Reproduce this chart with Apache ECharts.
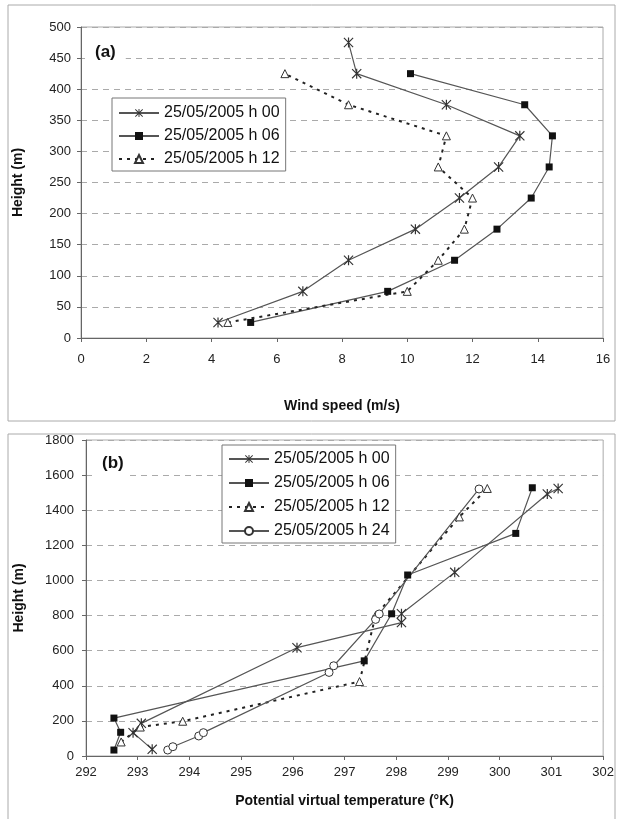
<!DOCTYPE html>
<html>
<head>
<meta charset="utf-8">
<script src="https://cdn.jsdelivr.net/npm/echarts@6/dist/echarts.min.js"></script>
<style>
  html, body { margin: 0; padding: 0; background: #fff; }
  #chart { width: 617px; height: 819px; }
</style>
</head>
<body>
<div id="chart"></div>
<script>
// Panel (a): wind speed (m/s) vs height (m)
const windH00 = [[4.2, 25], [6.8, 75], [8.2, 125], [10.25, 175], [11.6, 225], [12.8, 275], [13.45, 325], [11.2, 375], [8.45, 425], [8.2, 475]];
const windH06 = [[5.2, 25], [9.4, 75], [11.45, 125], [12.75, 175], [13.8, 225], [14.35, 275], [14.45, 325], [13.6, 375], [10.1, 425]];
const windH12 = [[4.5, 25], [10.0, 75], [10.95, 125], [11.75, 175], [12.0, 225], [10.95, 275], [11.2, 325], [8.2, 375], [6.25, 425]];

// Panel (b): potential virtual temperature (K) vs height (m)
const tempH00 = [[293.28, 38], [292.91, 133], [293.07, 186], [296.08, 617], [298.1, 760], [298.1, 810], [299.13, 1046], [300.92, 1492], [301.13, 1524]];
const tempH06 = [[292.54, 34], [292.67, 135], [292.54, 216], [297.38, 542], [297.91, 810], [298.22, 1031], [300.31, 1268], [300.63, 1528]];
const tempH12 = [[292.68, 80], [293.05, 165], [293.87, 198], [297.29, 424], [297.6, 800], [299.22, 1362], [299.76, 1524]];
const tempH24 = [[293.58, 34], [293.68, 53], [294.18, 114], [294.27, 133], [296.7, 476], [296.79, 514], [297.6, 778], [297.67, 809], [299.6, 1521]];

const names = ['25/05/2005 h 00', '25/05/2005 h 06', '25/05/2005 h 12', '25/05/2005 h 24'];

const FONT = 'Liberation Sans, Arial, sans-serif';
const asterisk = 'path://M4.4,0 L5.6,0 L5.6,10 L4.4,10 Z M0,0.8 L0.8,0 L10,9.2 L9.2,10 Z M9.2,0 L10,0.8 L0.8,10 L0,9.2 Z';

// one style per launch time, shared by both panels
const styles = [
    { symbol: asterisk, symbolSize: 10, itemStyle: { color: '#333' }, lineStyle: { color: '#555', width: 1.2 } },
    { symbol: 'rect', symbolSize: 7, itemStyle: { color: '#111' }, lineStyle: { color: '#555', width: 1.2 } },
    { symbol: 'triangle', symbolSize: 8, itemStyle: { color: '#fff', borderColor: '#333', borderWidth: 1 }, lineStyle: { color: '#222', width: 2, type: [3, 5] } },
    { symbol: 'circle', symbolSize: 8, itemStyle: { color: '#fff', borderColor: '#333', borderWidth: 1 }, lineStyle: { color: '#555', width: 1.2 } }
];

function makeSeries(idx, data, axisIndex) {
    const s = styles[idx];
    return {
        name: names[idx],
        type: 'line',
        xAxisIndex: axisIndex,
        yAxisIndex: axisIndex,
        data: data,
        symbol: s.symbol,
        symbolSize: s.symbolSize,
        showSymbol: true,
        itemStyle: s.itemStyle,
        lineStyle: s.lineStyle,
        emphasis: { disabled: true }
    };
}

function plainLabel(margin) {
    return { color: '#222', fontSize: 13, fontFamily: FONT, margin: margin, formatter: function(v) { return String(v); } };
}

function valueAxis(gridIndex, min, max, interval, extra) {
    return Object.assign({
        type: 'value',
        gridIndex: gridIndex,
        min: min,
        max: max,
        interval: interval,
        axisLine: { show: true, lineStyle: { color: '#666', width: 1 } },
        axisTick: { show: true, length: 4, lineStyle: { color: '#666' } },
        splitLine: { show: false },
        nameLocation: 'middle',
        nameTextStyle: { color: '#111', fontSize: 14, fontWeight: 'bold', fontFamily: FONT }
    }, extra);
}

const dashedGrid = { show: true, lineStyle: { color: '#aaa', type: [6, 5], width: 1 } };

const chart = echarts.init(document.getElementById('chart'));

const option = {
    animation: false,
    backgroundColor: '#fff',
    graphic: [
        { type: 'rect', shape: { x: 8, y: 5, width: 607, height: 416 }, style: { fill: 'none', stroke: '#aaa', lineWidth: 1 }, z: -1 },
        { type: 'rect', shape: { x: 8, y: 434, width: 607, height: 390 }, style: { fill: 'none', stroke: '#aaa', lineWidth: 1 }, z: -1 }
    ],
    title: [
        { text: '(a)', left: 85, top: 40, padding: [4, 10, 4, 10], backgroundColor: '#fff', textStyle: { fontSize: 17, fontWeight: 'bold', color: '#111', fontFamily: FONT } },
        { text: '(b)', left: 96, top: 452, padding: [3, 6, 8, 6], backgroundColor: '#fff', textStyle: { fontSize: 17, fontWeight: 'bold', color: '#111', fontFamily: FONT } }
    ],
    grid: [
        { left: 81, top: 27, width: 522, height: 311, show: true, borderColor: '#aaa', borderWidth: 1, backgroundColor: 'transparent' },
        { left: 86, top: 440, width: 520, height: 316, show: true, borderColor: '#aaa', borderWidth: 1, backgroundColor: 'transparent' }
    ],
    xAxis: [
        valueAxis(0, 0, 16, 2, { name: 'Wind speed (m/s)', nameGap: 61, axisLabel: plainLabel(15) }),
        valueAxis(1, 292, 302, 1, { name: 'Potential virtual temperature (°K)', nameGap: 38, axisLabel: plainLabel(10) })
    ],
    yAxis: [
        valueAxis(0, 0, 500, 50, { name: 'Height (m)', nameGap: 56, splitLine: dashedGrid, axisLabel: plainLabel(10) }),
        valueAxis(1, 0, 1800, 200, { name: 'Height (m)', nameGap: 60, splitLine: dashedGrid, axisLabel: plainLabel(12) })
    ],
    legend: [
        {
            data: names.slice(0, 3), orient: 'vertical', left: 112, top: 98,
            itemWidth: 40, itemHeight: 10, itemGap: 7,
            padding: [7, 6, 4, 6], backgroundColor: '#fff', borderColor: '#777', borderWidth: 1,
            textStyle: { fontSize: 16, color: '#111', fontFamily: FONT },
            selectedMode: false
        },
        {
            data: names.slice(0, 4), orient: 'vertical', left: 222, top: 445,
            itemWidth: 40, itemHeight: 10, itemGap: 8,
            padding: [6, 6, 4, 6], backgroundColor: '#fff', borderColor: '#777', borderWidth: 1,
            textStyle: { fontSize: 16, color: '#111', fontFamily: FONT },
            selectedMode: false
        }
    ],
    series: [
        makeSeries(0, windH00, 0),
        makeSeries(1, windH06, 0),
        makeSeries(2, windH12, 0),
        makeSeries(0, tempH00, 1),
        makeSeries(1, tempH06, 1),
        makeSeries(2, tempH12, 1),
        makeSeries(3, tempH24, 1)
    ]
};

chart.setOption(option);
</script>
</body>
</html>
